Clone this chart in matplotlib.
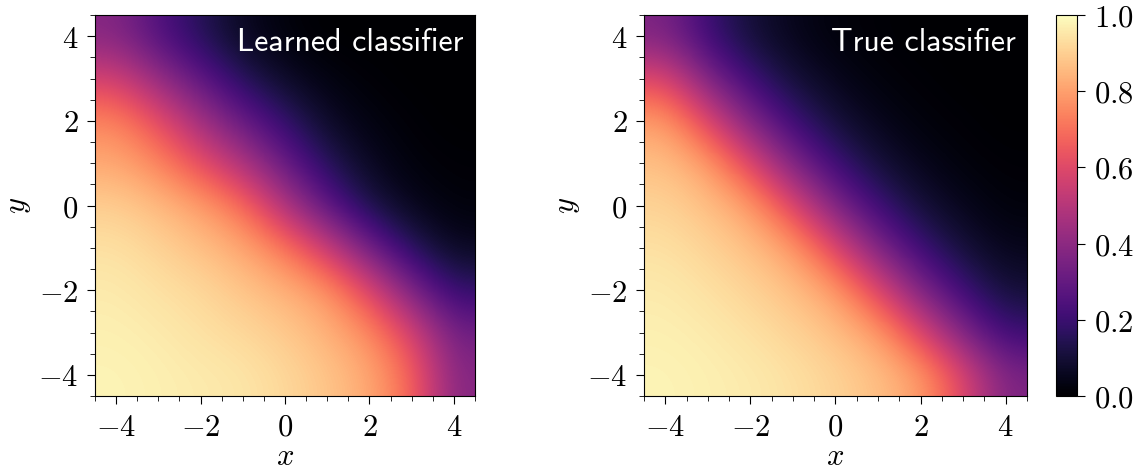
import numpy as np
import matplotlib
matplotlib.use('Agg')
import matplotlib.pyplot as plt
from matplotlib.ticker import MultipleLocator, FuncFormatter

plt.rcParams['mathtext.fontset'] = 'cm'

# classifier output, rows y = 4 .. -4, columns x = -4 .. 4
grid_x = [-4, -3, -2, -1, 0, 1, 2, 3, 4]
grid_y = [4, 3, 2, 1, 0, -1, -2, -3, -4]

learned = [
    [0.38, 0.25, 0.15, 0.06, 0.02, 0.00, 0.00, 0.00, 0.00],
    [0.57, 0.42, 0.28, 0.15, 0.07, 0.03, 0.01, 0.00, 0.00],
    [0.75, 0.62, 0.45, 0.30, 0.18, 0.07, 0.03, 0.01, 0.00],
    [0.82, 0.75, 0.62, 0.48, 0.30, 0.15, 0.06, 0.02, 0.01],
    [0.90, 0.86, 0.80, 0.70, 0.48, 0.27, 0.12, 0.05, 0.02],
    [0.94, 0.91, 0.87, 0.82, 0.72, 0.55, 0.32, 0.15, 0.06],
    [0.96, 0.94, 0.92, 0.88, 0.84, 0.78, 0.60, 0.35, 0.18],
    [0.97, 0.96, 0.94, 0.92, 0.89, 0.84, 0.76, 0.58, 0.33],
    [0.98, 0.97, 0.96, 0.95, 0.92, 0.88, 0.82, 0.68, 0.38],
]

true = [
    [0.36, 0.20, 0.10, 0.05, 0.02, 0.01, 0.00, 0.00, 0.00],
    [0.60, 0.36, 0.20, 0.10, 0.05, 0.02, 0.01, 0.00, 0.00],
    [0.80, 0.60, 0.36, 0.20, 0.10, 0.05, 0.02, 0.01, 0.00],
    [0.87, 0.80, 0.60, 0.36, 0.20, 0.10, 0.05, 0.02, 0.01],
    [0.91, 0.87, 0.80, 0.60, 0.36, 0.20, 0.10, 0.05, 0.02],
    [0.94, 0.91, 0.87, 0.80, 0.60, 0.36, 0.20, 0.10, 0.05],
    [0.96, 0.94, 0.91, 0.87, 0.80, 0.60, 0.36, 0.20, 0.10],
    [0.97, 0.96, 0.94, 0.91, 0.87, 0.80, 0.60, 0.36, 0.20],
    [0.98, 0.97, 0.96, 0.94, 0.91, 0.87, 0.80, 0.60, 0.36],
]

titles = ['Learned classifier', 'True classifier']

fig = plt.figure(figsize=(11.34, 4.71), dpi=100)
ax1 = fig.add_axes([0.0838, 0.1592, 0.3351, 0.8089])
ax2 = fig.add_axes([0.5679, 0.1592, 0.3377, 0.8089])
cax = fig.add_axes([0.9312, 0.1592, 0.0185, 0.8089])

ext = [grid_x[0] - 0.5, grid_x[-1] + 0.5, grid_y[-1] - 0.5, grid_y[0] + 0.5]
tickfmt = FuncFormatter(lambda v, p: r'$\mathrm{%g}$' % v)

for ax, data, title in zip([ax1, ax2], [learned, true], titles):
    im = ax.imshow(np.array(data), cmap='magma', vmin=0, vmax=1, extent=ext,
                   interpolation='bicubic', aspect='auto', origin='upper')
    ax.set_xlim(-4.5, 4.5)
    ax.set_ylim(-4.5, 4.5)
    ax.xaxis.set_major_locator(MultipleLocator(2))
    ax.yaxis.set_major_locator(MultipleLocator(2))
    ax.xaxis.set_minor_locator(MultipleLocator(0.5))
    ax.yaxis.set_minor_locator(MultipleLocator(0.5))
    ax.xaxis.set_major_formatter(tickfmt)
    ax.yaxis.set_major_formatter(tickfmt)
    ax.tick_params(which='major', length=6, labelsize=22, pad=6)
    ax.tick_params(which='minor', length=3.5)
    ax.set_xlabel(r'$x$', fontsize=22, labelpad=0)
    ax.set_ylabel(r'$y$', fontsize=22)
    ax.text(0.97, 0.965, title, transform=ax.transAxes, ha='right', va='top',
            color='white', fontsize=23, family='cmss10')

cb = fig.colorbar(im, cax=cax)
cb.set_ticks([0, 0.2, 0.4, 0.6, 0.8, 1.0])
cb.ax.yaxis.set_major_formatter(FuncFormatter(lambda v, p: r'$\mathrm{%.1f}$' % v))
cb.ax.tick_params(labelsize=22, length=6, pad=6)

fig.savefig('out.png', dpi=100)
